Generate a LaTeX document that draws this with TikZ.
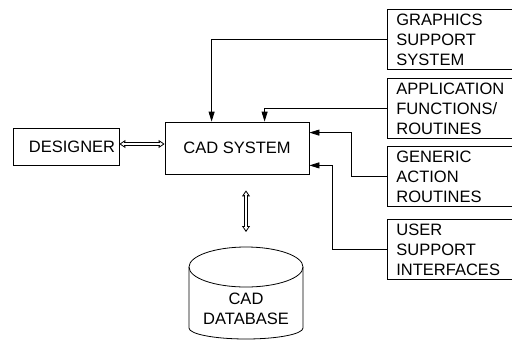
\documentclass[tikz,border=0pt]{standalone}
\usepackage{fontspec}
\setmainfont{Liberation Sans}
\usetikzlibrary{arrows.meta}
\begin{document}
\begin{tikzpicture}[x=1pt, y=-1pt, line width=0.8pt,
  font=\fontsize{16.5}{20}\selectfont,
  blocco/.style={draw, inner sep=0pt},
  modulo/.style={draw, anchor=north west, align=left, text width=125pt,
    inner xsep=9pt, inner ysep=0pt, minimum height=60pt},
  freccia/.style={-{Triangle[length=10pt,width=6pt]}},
  punte/.style={line width=0.8pt, {Triangle[open,length=6pt,width=8pt]}-{Triangle[open,length=6pt,width=8pt]}},
  asta/.style={double, double distance=2pt, line width=1pt}]

    % 1. Area del disegno (il lato destro dei moduli resta fuori)
    \clip (0,0) rectangle (512,341);

    % 2. Blocchi principali
    \node[blocco, minimum width=106pt, minimum height=37pt] (designer) at (66,146.5) {\hspace*{12pt}DESIGNER};
    \node[blocco, minimum width=144pt, minimum height=52pt] (cad) at (237,148) {CAD SYSTEM};

    % 3. Moduli sulla destra
    \node[modulo] (gss) at (387,9) {GRAPHICS\\SUPPORT\\SYSTEM};
    \node[modulo] (afr) at (387,78) {APPLICATION\\FUNCTIONS/\\ROUTINES};
    \node[modulo] (gar) at (387,146) {GENERIC\\ACTION\\ROUTINES};
    \node[modulo] (usi) at (387,219) {USER\\SUPPORT\\INTERFACES};

    % 4. Database (cilindro)
    \coordinate (dbtop) at (246,247);
    \draw (246,267) ellipse[x radius=57, y radius=20];
    \draw (189,267) -- (189,328) arc[start angle=180, end angle=0, x radius=57, y radius=11] -- (303,267);
    \node[align=center] (db) at (246,308.5) {CAD\\DATABASE};

    % 5. Collegamenti verso CAD SYSTEM
    \draw[freccia] (gss.west) -| ([xshift=47pt]cad.north west);
    \draw[freccia] (afr.west) -| ([xshift=100pt]cad.north west);
    \draw[freccia] (gar.west) -- ++(-36,0) |- ([yshift=-11pt]cad.north east);
    \draw[freccia] (usi.west) -- ++(-55,0) |- ([yshift=9pt]cad.south east);

    % 6. Frecce doppie vuote (prima le punte, poi l'asta sopra)
    \coordinate (ds) at ([yshift=2.5pt]designer.east);
    \draw[punte] (ds) -- (ds -| cad.west);
    \draw[asta, shorten <=5pt, shorten >=5pt] (ds) -- (ds -| cad.west);
    \draw[punte, shorten <=16pt, shorten >=15pt] (dbtop |- cad.south) -- (dbtop);
    \draw[asta, shorten <=21pt, shorten >=20pt] (dbtop |- cad.south) -- (dbtop);

\end{tikzpicture}
\end{document}
